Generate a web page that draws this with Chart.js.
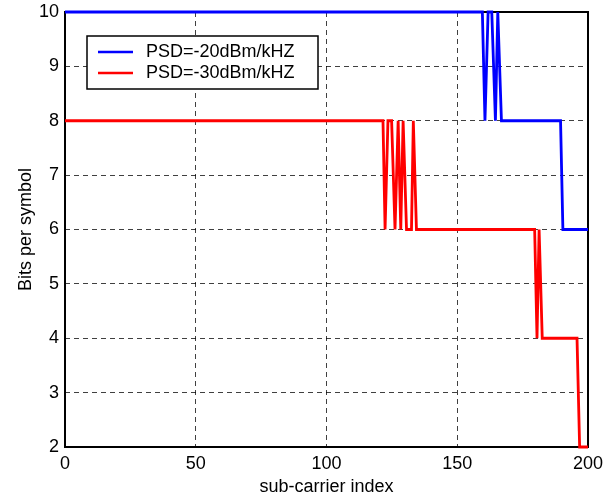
<!DOCTYPE html>
<html>
<head>
<meta charset="utf-8">
<script src="https://cdn.jsdelivr.net/npm/chart.js@4/dist/chart.umd.min.js"></script>
<style>
  html, body { margin: 0; padding: 0; background: #fff; }
  #grafico { display: block; }
</style>
</head>
<body>
<canvas id="grafico" width="616" height="502"></canvas>
<script>
// vertices of the two step curves
const etiquetas = ['PSD=-20dBm/kHZ', 'PSD=-30dBm/kHZ'];
const azulX = [0, 159.6, 160.6, 161.8, 163.2, 164.6, 165.5, 166.9, 189.5, 190.4, 200];
const azulY = [10, 10, 8, 10, 10, 8, 10, 8, 8, 6, 6];
const rojoX = [0, 121.6, 122.4, 123.5, 124.9, 126.2, 127.4, 128.4, 129.3, 130.6, 132.5, 133.2, 134.4,
               179.6, 180.5, 181.3, 182.5, 195.8, 196.8, 200];
const rojoY = [8, 8, 6, 8, 8, 6, 8, 6, 8, 6, 6, 8, 6,
               6, 4, 6, 4, 4, 2, 2];
const xTicks = [0, 50, 100, 150, 200];
const yTicks = [2, 3, 4, 5, 6, 7, 8, 9, 10];

function puntos(xs, ys) {
    return xs.map((x, i) => ({ x: x, y: ys[i] }));
}

const fuente = { family: 'Liberation Sans, Arial, sans-serif', size: 18 };

// box around plot area (under the lines) + matlab style legend (on top)
const caja = {
    id: 'caja',
    beforeDatasetsDraw(chart) {
        const { ctx, chartArea: a } = chart;
        ctx.save();
        ctx.setLineDash([]);
        ctx.strokeStyle = '#000';
        ctx.lineWidth = 2;
        ctx.strokeRect(a.left, a.top, a.right - a.left, a.bottom - a.top);
        ctx.restore();
    },
    afterDatasetsDraw(chart) {
        const { ctx } = chart;
        ctx.save();
        const lx = 87, ly = 36, lw = 231, lh = 53;
        ctx.fillStyle = '#fff';
        ctx.fillRect(lx, ly, lw, lh);
        ctx.strokeStyle = '#000';
        ctx.lineWidth = 1.5;
        ctx.strokeRect(lx, ly, lw, lh);
        ctx.font = '18px ' + fuente.family;
        ctx.textBaseline = 'middle';
        chart.data.datasets.forEach((ds, i) => {
            const yy = ly + 16 + i * 21;
            ctx.strokeStyle = ds.borderColor;
            ctx.lineWidth = 2.5;
            ctx.beginPath();
            ctx.moveTo(lx + 11, yy);
            ctx.lineTo(lx + 46, yy);
            ctx.stroke();
            ctx.fillStyle = '#000';
            ctx.fillText(ds.label, lx + 59, yy);
        });
        ctx.restore();
    }
};

const grafico = document.getElementById('grafico').getContext('2d');
new Chart(grafico, {
    type: 'line',
    data: {
        datasets: [{
            label: etiquetas[0],
            data: puntos(azulX, azulY),
            borderColor: '#0000ff',
            borderWidth: 2.8,
            pointRadius: 0,
            tension: 0,
            clip: 3
        }, {
            label: etiquetas[1],
            data: puntos(rojoX, rojoY),
            borderColor: '#ff0000',
            borderWidth: 2.8,
            pointRadius: 0,
            tension: 0,
            clip: 3
        }]
    },
    options: {
        responsive: false,
        animation: false,
        layout: { padding: { left: 0, top: 12, right: 28, bottom: 0 } },
        plugins: {
            legend: { display: false },
            tooltip: { enabled: false }
        },
        scales: {
            x: {
                type: 'linear',
                min: 0,
                max: 200,
                afterBuildTicks: s => { s.ticks = xTicks.map(v => ({ value: v })); },
                afterFit: s => { s.height = 55; s.paddingLeft = 0; s.paddingRight = 0; },
                grid: { color: 'rgba(0,0,0,0.75)', lineWidth: 1, drawTicks: false },
                border: { display: false, dash: [5, 4] },
                ticks: { color: '#000', font: fuente, padding: 6, maxRotation: 0 },
                title: { display: true, text: 'sub-carrier index', color: '#000', font: fuente, padding: { top: 7 } }
            },
            y: {
                min: 2,
                max: 10,
                afterBuildTicks: s => { s.ticks = yTicks.map(v => ({ value: v })); },
                afterFit: s => { s.width = 65; s.paddingTop = 0; s.paddingBottom = 0; },
                grid: { color: 'rgba(0,0,0,0.75)', lineWidth: 1, drawTicks: false },
                border: { display: false, dash: [5, 4] },
                ticks: { color: '#000', font: fuente, padding: 6 },
                title: { display: true, text: 'Bits per symbol', color: '#000', font: fuente, padding: { top: 15, bottom: 0 } }
            }
        }
    },
    plugins: [caja]
});
</script>
</body>
</html>
